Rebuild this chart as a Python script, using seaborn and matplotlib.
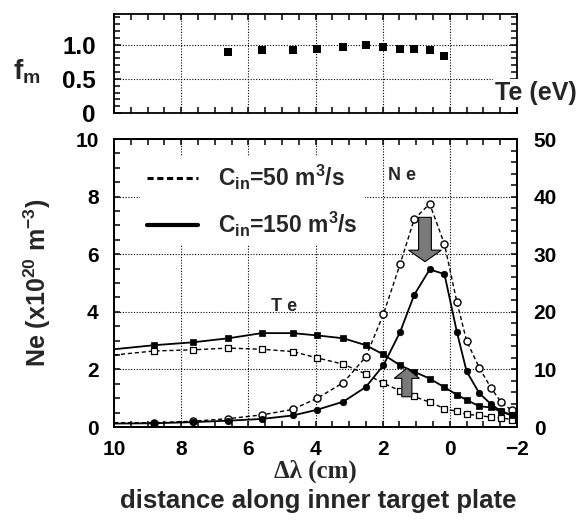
"""
Ne / Te profiles along the inner target plate for two pumping speeds,
with the f_m strip on top.
"""

import matplotlib
matplotlib.use("Agg")
import matplotlib.pyplot as plt
from matplotlib.lines import Line2D
from matplotlib.patches import FancyArrow
from matplotlib.ticker import MultipleLocator
import numpy as np
import pandas as pd
import seaborn as sns

# ── Data ────────────────────────────────────────────────────────────

# probe positions, Δλ (cm)
x_pts = [8.81, 7.66, 6.60, 5.60, 4.68, 3.95, 3.17, 2.50, 1.98, 1.48,
         1.06, 0.60, 0.16, -0.21, -0.50, -0.88, -1.22, -1.52, -1.84]

# Ne (x10^20 m^-3)
ne_150 = [0.13, 0.17, 0.22, 0.28, 0.40, 0.60, 0.88, 1.39, 2.14, 3.30,
          4.59, 5.47, 5.31, 3.30, 1.93, 1.17, 0.80, 0.55, 0.42]
ne_50 = [0.15, 0.20, 0.29, 0.42, 0.61, 1.00, 1.54, 2.44, 3.91, 5.66,
         7.22, 7.75, 6.35, 4.34, 2.99, 2.05, 1.37, 0.87, 0.58]

# Te (eV)
te_150 = [14.2, 14.7, 15.4, 16.3, 16.3, 15.9, 15.4, 14.2, 12.6, 10.7,
          9.6, 8.4, 6.9, 5.6, 4.7, 3.6, 3.4, 2.7, 2.0]
te_50 = [13.2, 13.4, 13.7, 13.5, 13.1, 12.0, 10.9, 9.2, 7.6, 6.3,
         5.3, 4.3, 3.2, 2.7, 2.2, 2.0, 1.7, 1.6, 1.3]

# where the curves meet the plot frame (x = 10 and x = -2)
x_edges = [10.0, -2.0]
ne_150_edges = [0.12, 0.35]
ne_50_edges = [0.15, 0.50]
te_150_edges = [13.5, 1.7]
te_50_edges = [12.5, 1.2]

# f_m strip
x_fm = [6.60, 5.60, 4.68, 3.95, 3.17, 2.50, 1.98, 1.48, 1.06, 0.60, 0.16]
fm = [0.89, 0.92, 0.92, 0.94, 0.96, 0.99, 0.97, 0.94, 0.94, 0.92, 0.83]

x_ticks = [10, 8, 6, 4, 2, 0, -2]
ne_ticks = [0, 2, 4, 6, 8, 10]
te_ticks = [0, 10, 20, 30, 40, 50]
fm_ticks = [0, 0.5, 1.0]
fm_ticklabels = ["0", "0.5", "1.0"]

legend_labels = [r"C$_{in}$=50 m$^{3}$/s", r"C$_{in}$=150 m$^{3}$/s"]

# ── Theme ────────────────────────────────────────────────────────────

sns.set_theme(style="ticks")
plt.rcParams.update({
    "font.family": ["Liberation Sans", "DejaVu Sans"],
    "font.weight": "bold",
    "axes.labelweight": "bold",
    "mathtext.fontset": "custom",
    "mathtext.rm": "Liberation Sans:bold",
    "mathtext.it": "Liberation Sans:bold",
    "mathtext.bf": "Liberation Sans:bold",
    "mathtext.default": "bf",
    "axes.linewidth": 1.3,
    "axes.edgecolor": "black",
    "xtick.color": "black",
    "ytick.color": "black",
})

GRID = dict(color="black", linestyle=(0, (1, 1.5)), linewidth=0.8)
DASH = (0, (3, 2))


def full_curve(xs, ys, edges):
    """Points plus the two frame crossings, ordered along x."""
    df = pd.DataFrame({"x": list(xs) + x_edges, "y": list(ys) + edges})
    return df.sort_values("x", ascending=False)


def style_ticks(a, labelsize=15):
    a.tick_params(which="both", direction="in", length=4, width=1.1,
                  labelsize=labelsize)


# ── Figure ───────────────────────────────────────────────────────────

fig = plt.figure(figsize=(5.77, 5.21), dpi=100)
ax_fm = fig.add_axes([0.1976, 0.7831, 0.6984, 0.1900])
ax = fig.add_axes([0.1976, 0.1804, 0.6984, 0.5528])
ax_te = ax.twinx()

# top strip: f_m
sns.scatterplot(x=x_fm, y=fm, ax=ax_fm, marker="s", s=34, color="black",
                edgecolor="black", linewidth=0, zorder=5)
ax_fm.set_xlim(10, -2)
ax_fm.set_ylim(0, 1.45)
ax_fm.set_xticks(x_ticks)
ax_fm.xaxis.set_minor_locator(MultipleLocator(0.5))
ax_fm.set_yticks(fm_ticks)
ax_fm.set_yticklabels(fm_ticklabels)
ax_fm.yaxis.set_minor_locator(MultipleLocator(0.1))
ax_fm.grid(True, which="major", **GRID)
style_ticks(ax_fm, labelsize=17.5)
ax_fm.tick_params(which="both", top=True, right=True, labelbottom=False)
ax_fm.tick_params(axis="y", which="major", length=5, pad=13)

# Ne (left axis)
ne50 = full_curve(x_pts, ne_50, ne_50_edges)
ne150 = full_curve(x_pts, ne_150, ne_150_edges)
sns.lineplot(data=ne50, x="x", y="y", ax=ax, color="black", lw=1.0,
             linestyle=DASH, sort=False, estimator=None)
sns.lineplot(data=ne150, x="x", y="y", ax=ax, color="black", lw=1.3,
             sort=False, estimator=None)
sns.scatterplot(x=x_pts, y=ne_50, ax=ax, marker="o", s=26,
                facecolor="white", edgecolor="black", linewidth=1.0, zorder=4)
sns.scatterplot(x=x_pts, y=ne_150, ax=ax, marker="o", s=22,
                color="black", edgecolor="black", linewidth=0.5, zorder=5)

# Te (right axis)
te50 = full_curve(x_pts, te_50, te_50_edges)
te150 = full_curve(x_pts, te_150, te_150_edges)
sns.lineplot(data=te50, x="x", y="y", ax=ax_te, color="black", lw=1.0,
             linestyle=DASH, sort=False, estimator=None)
sns.lineplot(data=te150, x="x", y="y", ax=ax_te, color="black", lw=1.3,
             sort=False, estimator=None)
sns.scatterplot(x=x_pts, y=te_50, ax=ax_te, marker="s", s=18,
                facecolor="white", edgecolor="black", linewidth=0.9, zorder=4)
sns.scatterplot(x=x_pts, y=te_150, ax=ax_te, marker="s", s=20,
                color="black", edgecolor="black", linewidth=0.5, zorder=5)

ax.set_xlim(10, -2)
ax.set_ylim(0, 10)
ax.set_xticks(x_ticks)
ax.xaxis.set_minor_locator(MultipleLocator(0.5))
ax.set_yticks(ne_ticks)
ax.yaxis.set_minor_locator(MultipleLocator(0.5))
ax.grid(True, which="major", **GRID)
style_ticks(ax)
ax.tick_params(which="both", top=True, right=False)
ax.tick_params(axis="x", pad=9)
ax.tick_params(axis="y", pad=11)

ax_te.set_ylim(0, 50)
ax_te.set_yticks(te_ticks)
ax_te.yaxis.set_minor_locator(MultipleLocator(2))
style_ticks(ax_te)
ax_te.tick_params(axis="y", pad=12)
ax_te.set_ylabel("")
ax_te.set_xlabel("")

ax.set_xlabel("Δλ (cm)", family=["Liberation Serif", "DejaVu Serif"],
              fontsize=18, fontweight="bold", labelpad=1)
ax.set_ylabel(r"Ne (x10$^{20}$ m$^{-3}$)", fontsize=18, fontweight="bold",
              labelpad=16)

# gray arrows (drawn in Te units on the twin axis)
ax_te.add_patch(FancyArrow(0.74, 36.4, 0, -7.7, width=0.38, head_width=0.98,
                           head_length=2.0, length_includes_head=True,
                           facecolor="#7a7a7a", edgecolor="black",
                           linewidth=0.8, zorder=8))
ax_te.add_patch(FancyArrow(1.28, 5.25, 0, 4.95, width=0.30, head_width=0.75,
                           head_length=1.75, length_includes_head=True,
                           facecolor="#7a7a7a", edgecolor="black",
                           linewidth=0.8, zorder=8))

# curve labels
ax.text(1.43, 8.75, "N e", fontsize=13, fontweight="bold", ha="center",
        va="center")
ax.text(4.94, 4.2, "T e", fontsize=13, fontweight="bold", ha="center",
        va="center")

# legend
handles = [
    Line2D([], [], color="black", lw=2.2, linestyle=(0, (2, 1.2))),
    Line2D([], [], color="black", lw=3.0),
]
leg = ax.legend(handles, legend_labels, loc="upper left",
                bbox_to_anchor=(0.065, 0.94), borderaxespad=0,
                fontsize=16.5, handlelength=2.2, handletextpad=0.9,
                labelspacing=0.75, frameon=True, fancybox=False,
                borderpad=0.3)
leg.get_frame().set_facecolor("white")
leg.get_frame().set_edgecolor("none")
leg.get_frame().set_alpha(1.0)

# figure-level labels
fig.text(0.046, 0.862, r"f$_{m}$", fontsize=20, fontweight="bold",
         ha="center", va="center")
fig.text(0.929, 0.822, "Te (eV)", fontsize=18, fontweight="bold",
         ha="center", va="center",
         bbox=dict(facecolor="white", edgecolor="none", pad=1.5))
fig.text(0.551, 0.038, "distance along inner target plate", fontsize=18.5,
         fontweight="bold", ha="center", va="center")

fig.savefig("out.png", dpi=100)
plt.close(fig)
